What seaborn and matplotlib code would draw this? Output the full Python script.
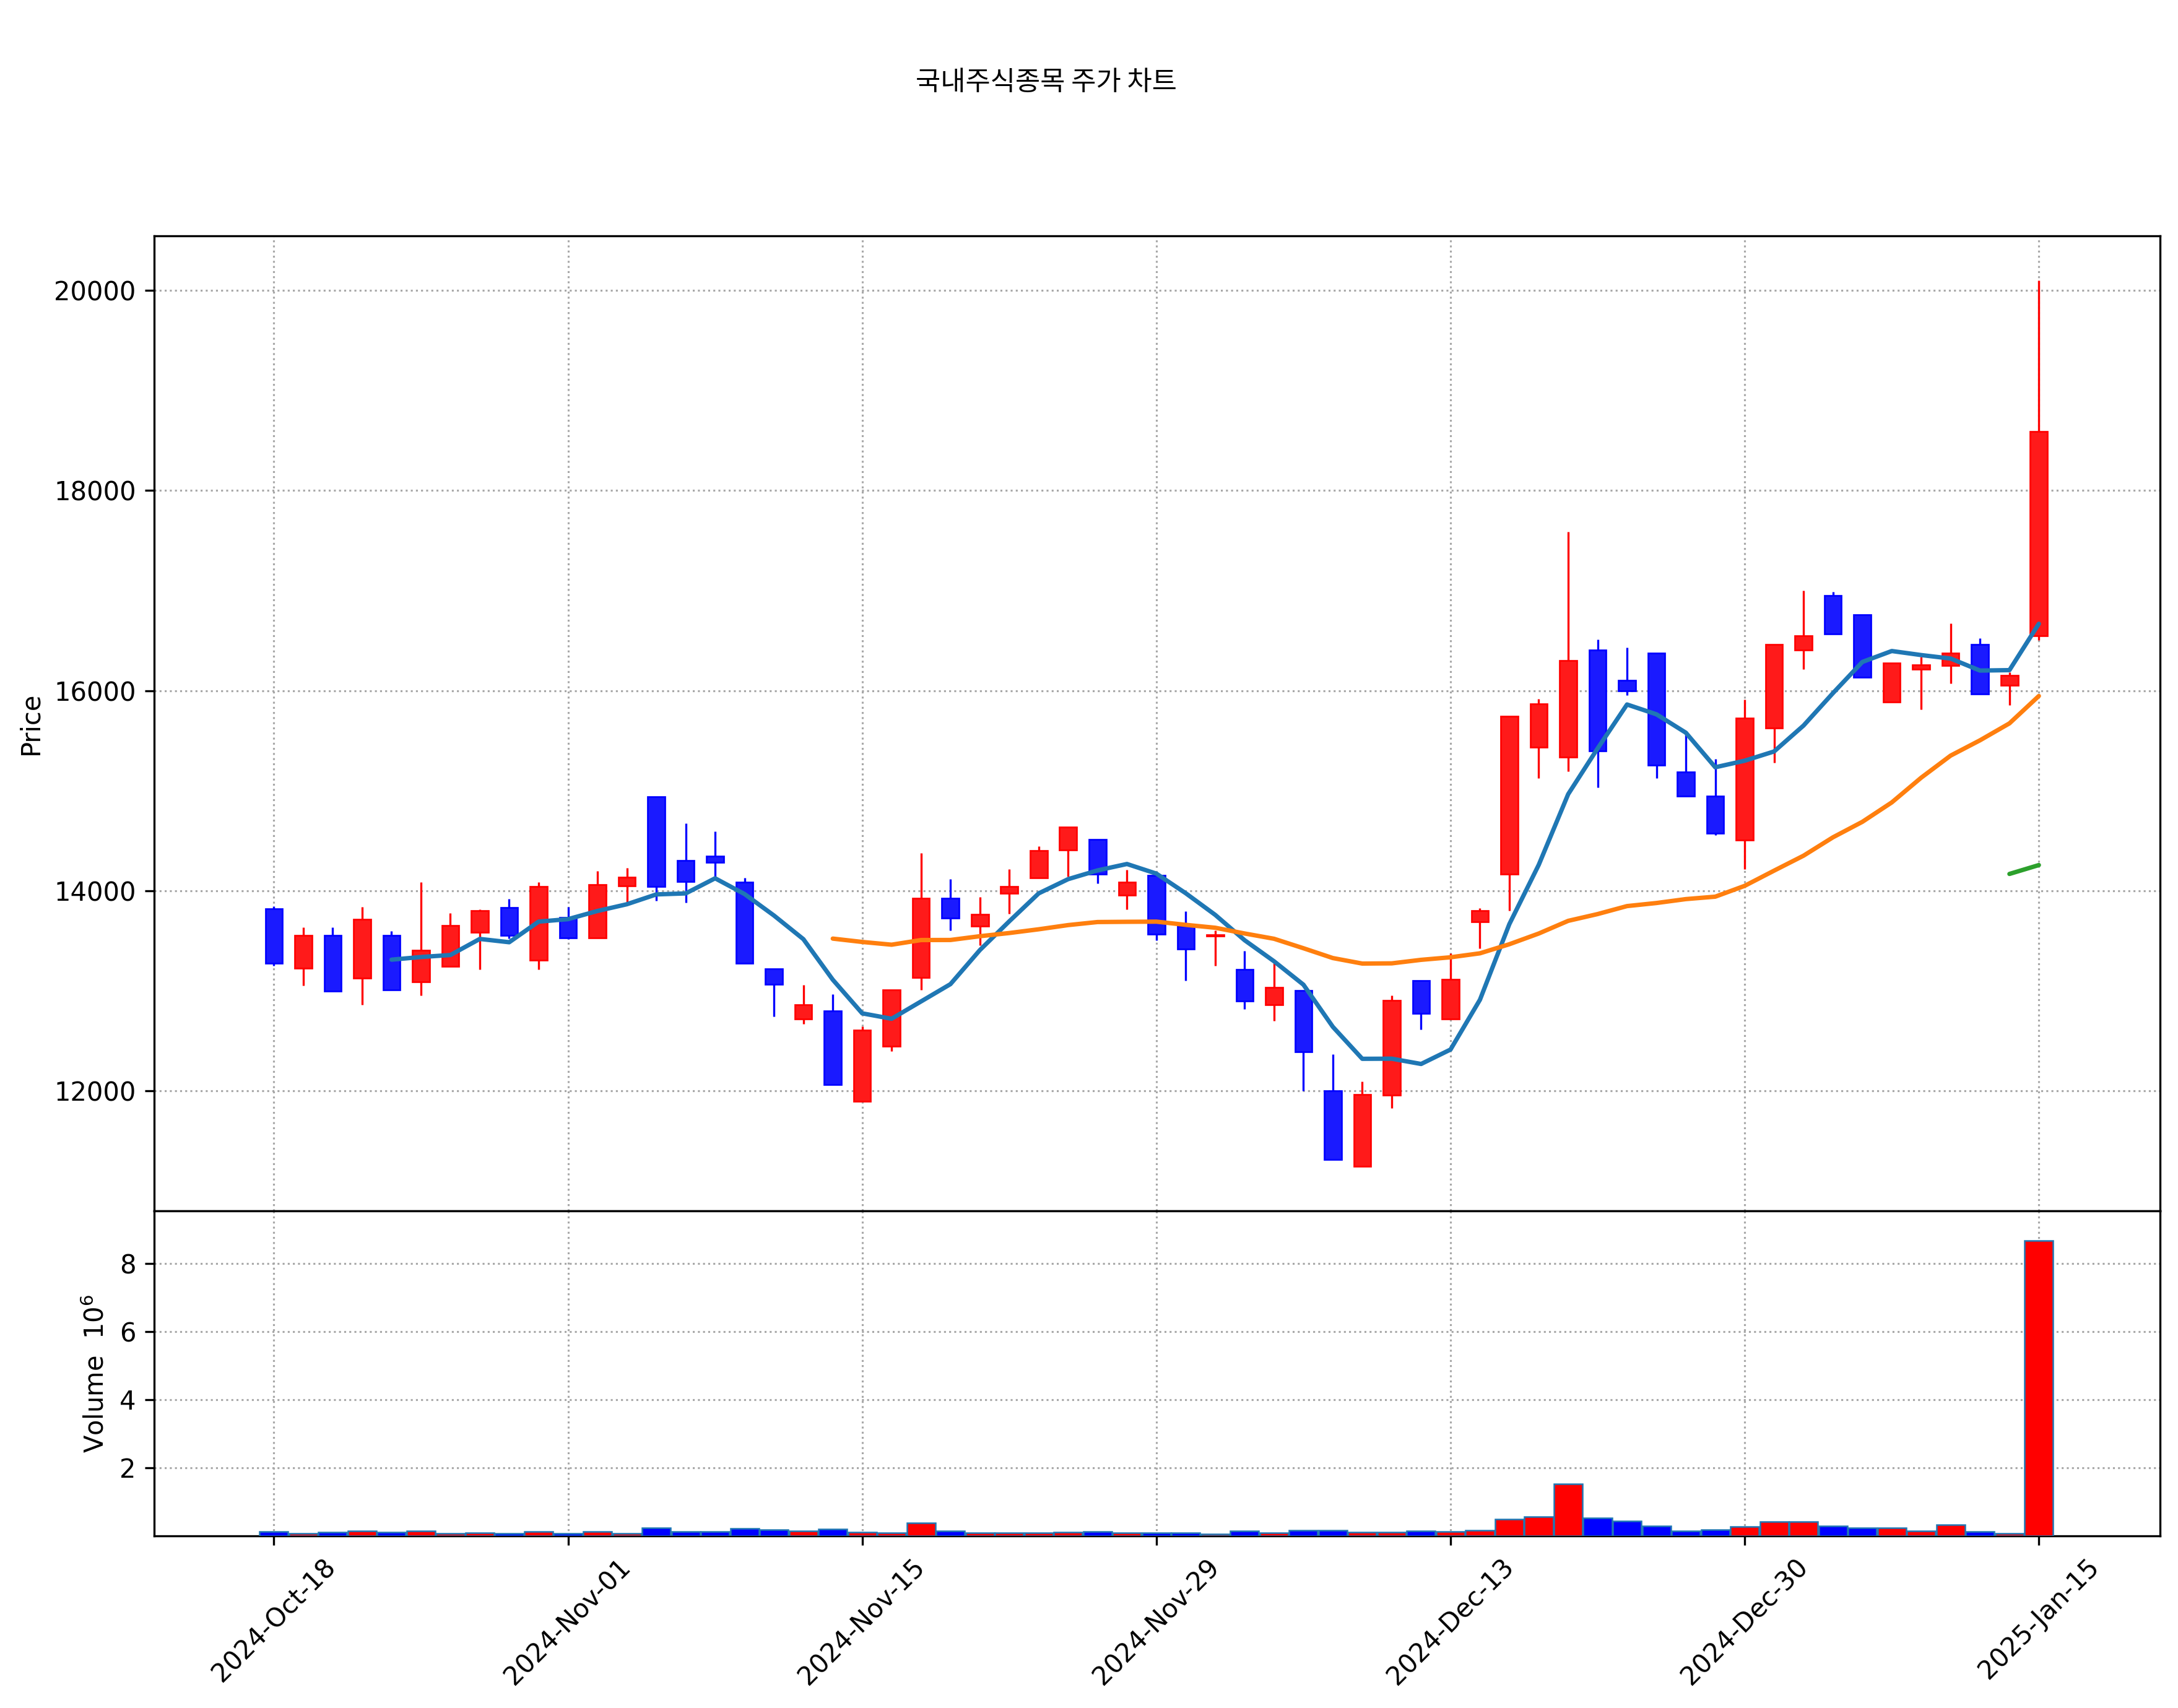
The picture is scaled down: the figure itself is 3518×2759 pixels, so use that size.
import numpy as np
import pandas as pd
import matplotlib
matplotlib.use("Agg")
import matplotlib.pyplot as plt
import seaborn as sns

# ---------------- data ----------------
opens = [13821, 13227, 13557, 13126, 13557, 13093, 13244, 13584, 13835, 13305,
         13733, 13531, 14048, 14940, 14302, 14346, 14086, 13222, 12720, 12800,
         11897, 12449, 13132, 13928, 13646, 13975, 14130, 14407, 14514, 13955,
         14153, 13649, 13550, 13213, 12862, 13004, 12004, 11245, 11957, 13102,
         12719, 13688, 14167, 15434, 15337, 16406, 16104, 16372, 15184, 14948,
         14506, 15624, 16405, 16947, 16757, 15888, 16211, 16252, 16459, 16050,
         16546]
highs = [13845, 13635, 13635, 13839, 13598, 14089, 13775, 13814, 13920, 14089,
         13839, 14196, 14231, 14940, 14676, 14595, 14132, 13222, 13057, 12969,
         12648, 13008, 14377, 14119, 13938, 14216, 14444, 14638, 14514, 14210,
         14153, 13794, 13606, 13398, 13277, 13004, 12366, 12096, 12953, 13102,
         13375, 13826, 15743, 15917, 17587, 16510, 16431, 16372, 15573, 15319,
         15913, 16459, 17001, 16989, 16757, 16273, 16335, 16674, 16525, 16182,
         20100]
lows = [13250, 13054, 12996, 12862, 13013, 12953, 13244, 13213, 13522, 13213,
        13520, 13531, 13890, 13899, 13879, 14137, 13278, 12744, 12672, 12066,
        11897, 12395, 13008, 13605, 13455, 13770, 14130, 14140, 14072, 13811,
        13506, 13102, 13249, 12819, 12698, 12000, 11315, 11245, 11826, 12613,
        12719, 13427, 13802, 15128, 15191, 15035, 15955, 15128, 14948, 14559,
        14217, 15280, 16215, 16567, 16132, 15888, 15810, 16070, 15967, 15855,
        16505]
closes = [13275, 13557, 12996, 13718, 13013, 13408, 13656, 13800, 13553, 14043,
          13531, 14064, 14137, 14044, 14093, 14286, 13278, 13064, 12863, 12066,
          12607, 13008, 13928, 13728, 13767, 14045, 14403, 14638, 14165, 14088,
          13564, 13421, 13560, 12898, 13036, 12394, 11315, 11964, 12904, 12772,
          13115, 13802, 15743, 15868, 16299, 15399, 15997, 15253, 14948, 14573,
          15727, 16459, 16546, 16567, 16132, 16273, 16257, 16372, 15967, 16153,
          18590]
volumes_m = [0.12, 0.07, 0.11, 0.14, 0.11, 0.14, 0.07, 0.09, 0.07, 0.12,
             0.07, 0.12, 0.07, 0.24, 0.12, 0.12, 0.22, 0.18, 0.14, 0.20,
             0.11, 0.09, 0.375, 0.14, 0.09, 0.09, 0.09, 0.11, 0.12, 0.09,
             0.09, 0.09, 0.05, 0.14, 0.09, 0.17, 0.17, 0.11, 0.11, 0.15,
             0.12, 0.17, 0.49, 0.57, 1.53, 0.53, 0.44, 0.29, 0.15, 0.19,
             0.28, 0.41, 0.41, 0.29, 0.23, 0.23, 0.15, 0.32, 0.13, 0.08,
             8.66]
tick_labels = ["2024-Oct-18", "2024-Nov-01", "2024-Nov-15", "2024-Nov-29",
               "2024-Dec-13", "2024-Dec-30", "2025-Jan-15"]
ma_windows = [5, 20, 60]
title_text = "국내주식종목 주가 차트"

# ---------------- style ----------------
sns.set_style("ticks")
plt.rcParams.update({
    "font.family": ["DejaVu Sans"],
    "font.size": 10,
    "text.color": "black",
    "axes.labelcolor": "black",
    "axes.edgecolor": "black",
    "axes.linewidth": 0.8,
    "xtick.color": "black",
    "ytick.color": "black",
    "xtick.labelsize": 10,
    "ytick.labelsize": 10,
    "xtick.major.size": 3.5,
    "ytick.major.size": 3.5,
    "xtick.major.width": 0.8,
    "ytick.major.width": 0.8,
    "xtick.direction": "out",
    "ytick.direction": "out",
})

df = pd.DataFrame({"Open": opens, "High": highs, "Low": lows,
                   "Close": closes, "Volume": np.array(volumes_m) * 1e6})
n = len(df)
x = np.arange(n)
up = df["Close"] >= df["Open"]
solid = np.where(up, "#ff0000", "#0000ff")
fill = np.where(up, "#ff1a1a", "#1a1aff")

W, H = 3518, 2759
fig = plt.figure(figsize=(W / 300, H / 300), dpi=300)
ax = fig.add_axes([249 / W, 1 - 1956 / H, (3489 - 249) / W, (1956 - 381) / H])
axv = fig.add_axes([249 / W, 1 - 2481 / H, (3489 - 249) / W, (2481 - 1956) / H], sharex=ax)

grid_kw = dict(color="#a8a8a8", linestyle=":", linewidth=0.75)
for a in (ax, axv):
    a.grid(True, **grid_kw)
    a.set_axisbelow(True)

# candles
ax.vlines(x, df["Low"], df["High"], colors=solid, linewidth=0.8, zorder=2)
body_bottom = np.minimum(df["Open"], df["Close"])
body_height = np.abs(df["Close"] - df["Open"])
body_height = np.maximum(body_height, 8)
ax.bar(x, body_height, bottom=body_bottom, width=0.58, color=fill,
       edgecolor=solid, linewidth=0.65, zorder=3)

# moving averages
ma_colors = ["#1f77b4", "#ff7f0e", "#2ca02c"]
for w, c in zip(ma_windows, ma_colors):
    ma = df["Close"].rolling(w).mean()
    ok = ma.notna().values
    sns.lineplot(x=x[ok], y=ma.values[ok], ax=ax, color=c, linewidth=1.7,
                 zorder=4, legend=False)

ax.set_xlim(-4.07, 64.12)
ax.set_ylim(10802, 20543)
ax.set_yticks([12000, 14000, 16000, 18000, 20000])
ax.set_ylabel("Price")
ax.set_xlabel("")
ax.tick_params(axis="x", labelbottom=False)

# volume
axv.bar(x, df["Volume"], width=0.97, color=solid, edgecolor="#1f77b4",
        linewidth=0.6, zorder=3)
axv.set_ylim(0, 9.54e6)
vt = [2e6, 4e6, 6e6, 8e6]
axv.set_yticks(vt)
axv.set_yticklabels([f"{v / 1e6:.0f}" for v in vt])
axv.set_ylabel("Volume  $10^{6}$")
axv.set_xticks(list(range(0, n, 10)))
axv.set_xticklabels(tick_labels, rotation=45, ha="center")
axv.set_xlabel("")

fig.suptitle(title_text, x=1690 / W, y=1 - 110 / H, fontsize=10.5,
             family=["Noto Sans CJK KR", "DejaVu Sans"])

fig.savefig("out.png", dpi=300)
